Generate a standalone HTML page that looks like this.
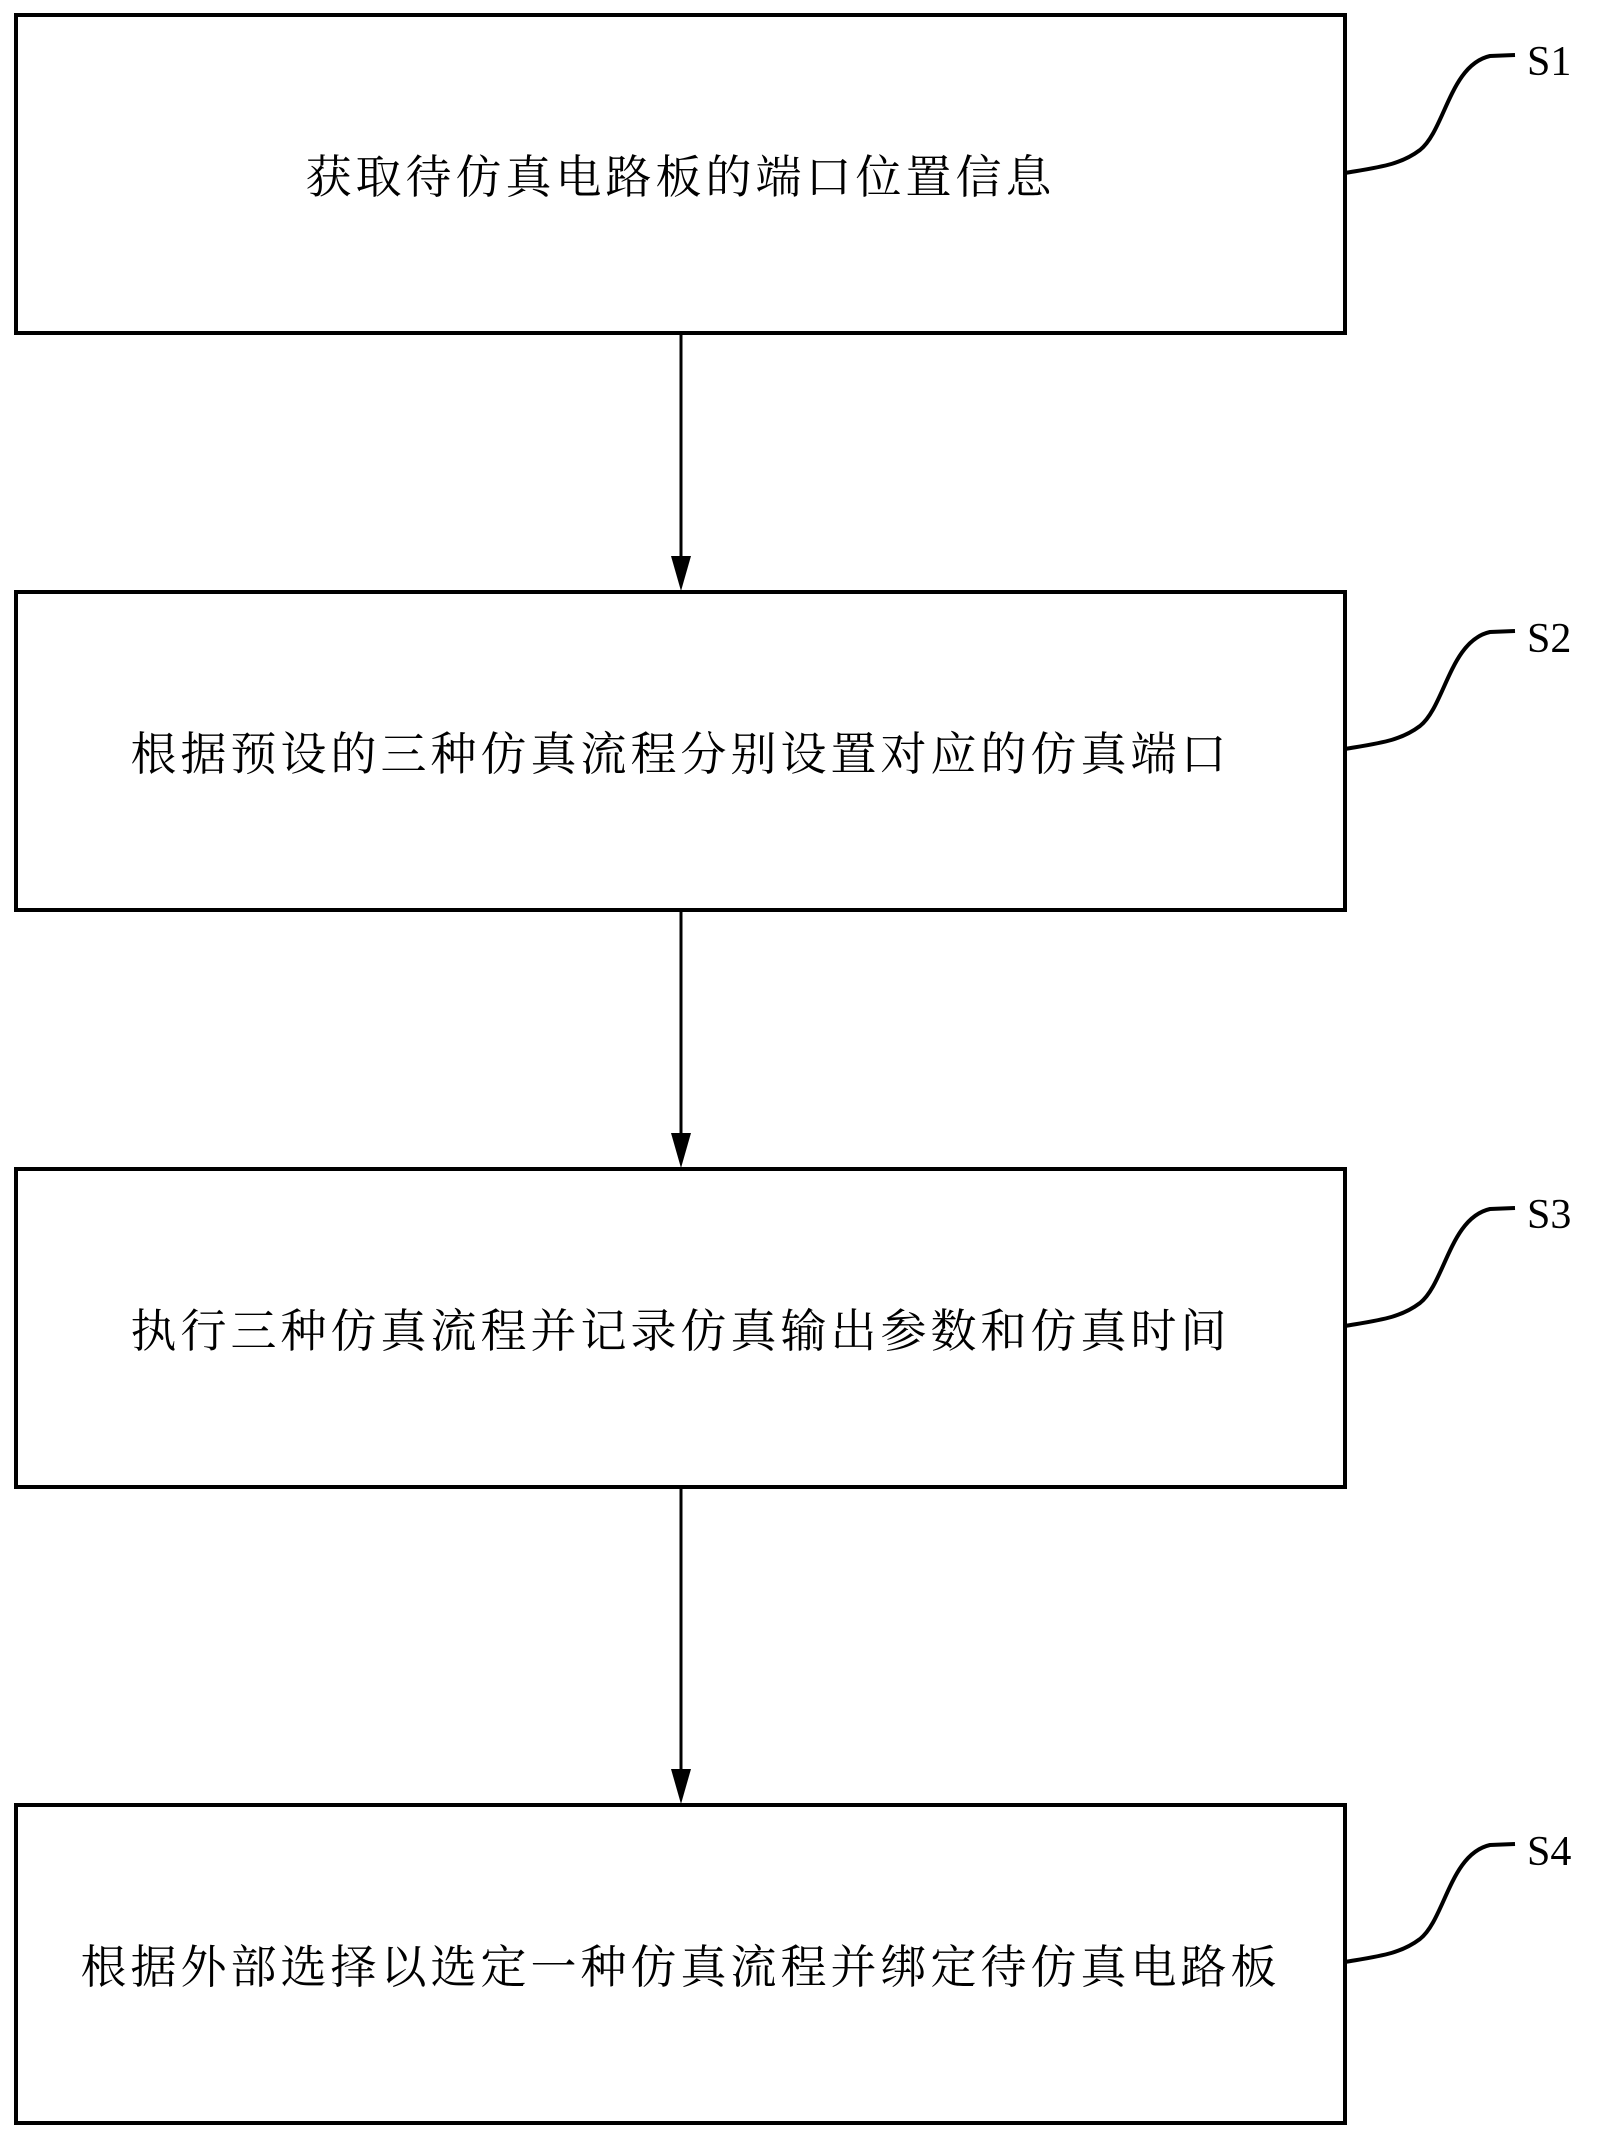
<!DOCTYPE html>
<html><head><meta charset="utf-8"><style>
body{margin:0;background:#fff;width:1602px;height:2138px;overflow:hidden;position:relative}
.b{position:absolute;left:14px;width:1325px;border:4px solid #000;display:flex;align-items:center;justify-content:center;font-family:"Liberation Serif","Noto Serif CJK SC",serif;font-size:46px;letter-spacing:4px;white-space:nowrap;color:#000}
.s{position:absolute;left:1527px;font-family:"Liberation Serif",serif;font-size:42px}
</style></head><body>
<div class="b" style="top:13px;height:314px">获取待仿真电路板的端口位置信息</div>
<div class="b" style="top:590px;height:314px">根据预设的三种仿真流程分别设置对应的仿真端口</div>
<div class="b" style="top:1167px;height:314px">执行三种仿真流程并记录仿真输出参数和仿真时间</div>
<div class="b" style="top:1803px;height:314px">根据外部选择以选定一种仿真流程并绑定待仿真电路板</div>
<svg width="1602" height="2138" style="position:absolute;left:0;top:0">
<g stroke="#000" stroke-width="3" fill="none">
<line x1="681" y1="334" x2="681" y2="560"/>
<line x1="681" y1="910" x2="681" y2="1137"/>
<line x1="681" y1="1487" x2="681" y2="1773"/>
</g>
<g fill="#000">
<polygon points="671,556 691,556 681,591"/>
<polygon points="671,1133 691,1133 681,1168"/>
<polygon points="671,1769 691,1769 681,1804"/>
</g>
<g stroke="#000" stroke-width="4" fill="none">
<path d="M1345,173 C1380,167 1400,165 1420,150 C1445,130 1450,65 1490,56 L1515,55"/>
<path d="M1345,749 C1380,743 1400,741 1420,726 C1445,706 1450,641 1490,632 L1515,631"/>
<path d="M1345,1326 C1380,1320 1400,1318 1420,1303 C1445,1283 1450,1218 1490,1209 L1515,1208"/>
<path d="M1345,1962 C1380,1956 1400,1954 1420,1939 C1445,1919 1450,1854 1490,1845 L1515,1844"/>
</g>
</svg>
<div class="s" style="top:38px">S1</div>
<div class="s" style="top:615px">S2</div>
<div class="s" style="top:1191px">S3</div>
<div class="s" style="top:1828px">S4</div>
</body></html>
